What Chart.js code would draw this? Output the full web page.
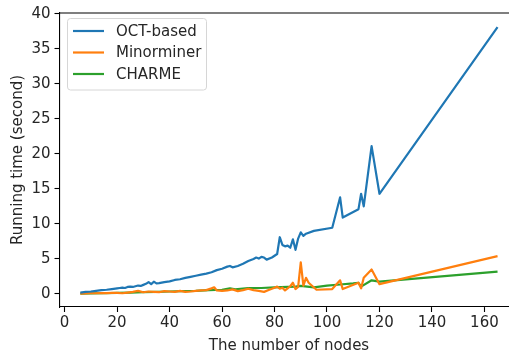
<!DOCTYPE html>
<html>
<head>
<meta charset="utf-8">
<script src="https://cdn.jsdelivr.net/npm/chart.js@4"></script>
<style>
  html, body { margin: 0; padding: 0; background: #fff; width: 509px; height: 355px; overflow: hidden; }
  canvas { display: block; }
</style>
</head>
<body>
<canvas id="runtimeChart" width="520" height="355"></canvas>
<script>
const octX = [6, 8, 10, 12, 14, 16, 18, 20, 21, 22, 23, 24, 25, 26, 27, 28, 29, 30, 31, 32, 33, 34, 35, 36, 38, 40, 42, 44, 46, 48, 50, 52, 54, 56, 58, 60, 62, 63, 64, 66, 68, 70, 72, 73, 74, 75, 76, 77, 79, 81, 82, 83, 84, 85, 86, 87, 88, 89, 90, 91, 92, 95, 102, 105, 106, 112, 113, 114, 117, 120, 165];
const octY = [0.2, 0.3, 0.35, 0.45, 0.55, 0.6, 0.7, 0.8, 0.85, 0.9, 0.85, 1.0, 1.05, 1.0, 1.1, 1.2, 1.15, 1.3, 1.45, 1.7, 1.4, 1.75, 1.5, 1.55, 1.7, 1.8, 2.0, 2.1, 2.3, 2.45, 2.6, 2.75, 2.9, 3.1, 3.4, 3.6, 3.9, 4.0, 3.8, 4.0, 4.3, 4.7, 5.0, 5.2, 5.05, 5.3, 5.2, 4.9, 5.2, 5.7, 8.1, 7.0, 6.8, 6.9, 6.6, 7.8, 6.3, 7.9, 8.8, 8.3, 8.6, 9.0, 9.45, 13.8, 10.9, 12.1, 14.3, 12.5, 21.1, 14.3, 38.1];

const minX = [6, 8, 10, 12, 14, 16, 18, 20, 22, 24, 26, 28, 30, 32, 34, 36, 38, 40, 42, 44, 46, 48, 50, 52, 54, 56, 57, 58, 60, 62, 64, 66, 68, 70, 72, 74, 76, 78, 80, 81, 82, 83, 84, 85, 86, 87, 88, 89, 90, 91, 92, 93, 96, 102, 105, 106, 112, 113, 114, 117, 120, 165];
const minY = [0.05, 0.08, 0.1, 0.1, 0.12, 0.12, 0.15, 0.15, 0.1, 0.2, 0.3, 0.45, 0.25, 0.35, 0.3, 0.25, 0.4, 0.35, 0.3, 0.45, 0.3, 0.35, 0.45, 0.5, 0.55, 0.8, 0.95, 0.5, 0.45, 0.5, 0.65, 0.4, 0.55, 0.75, 0.55, 0.45, 0.3, 0.6, 0.9, 1.05, 0.75, 0.9, 0.5, 0.8, 1.1, 1.6, 0.7, 1.0, 4.5, 1.2, 2.3, 1.6, 0.6, 0.7, 1.95, 0.7, 1.6, 0.8, 2.3, 3.5, 1.4, 5.4];

const charX = [6, 10, 15, 20, 25, 30, 35, 40, 45, 50, 55, 60, 63, 65, 70, 75, 80, 85, 88, 90, 95, 100, 105, 110, 112, 113, 117, 120, 165];
const charY = [0.05, 0.08, 0.1, 0.15, 0.2, 0.25, 0.3, 0.35, 0.4, 0.45, 0.55, 0.6, 0.8, 0.65, 0.85, 0.85, 0.95, 1.0, 1.05, 1.15, 0.95, 1.2, 1.35, 1.5, 1.6, 1.05, 1.95, 1.75, 3.2];

const seriesNames = ["OCT-based", "Minorminer", "CHARME"];
const seriesColors = ["#1f77b4", "#ff7f0e", "#2ca02c"];
const xTicks = [0, 20, 40, 60, 80, 100, 120, 140, 160];
const yTicks = [0, 5, 10, 15, 20, 25, 30, 35, 40];

const FONT = "\"DejaVu Sans\", sans-serif";
const FONT_SIZE = 15;
const TEXT_COLOR = "#262626";

const toPoints = (xs, ys) => xs.map((x, i) => ({ x, y: ys[i] }));

// spine superior y leyenda estilo matplotlib
const frameAndLegend = {
  id: "frameAndLegend",
  afterDraw(chart) {
    const { ctx, chartArea } = chart;
    ctx.save();
    ctx.strokeStyle = "#000";
    ctx.lineWidth = 1.1;
    ctx.beginPath();
    ctx.moveTo(chartArea.left, chartArea.top);
    ctx.lineTo(chartArea.right, chartArea.top);
    ctx.lineTo(chartArea.right, chartArea.bottom);
    ctx.stroke();

    const bx = 67.5, by = 18.5, bw = 139, bh = 71.5;
    ctx.beginPath();
    ctx.roundRect(bx, by, bw, bh, 3);
    ctx.fillStyle = "rgba(255,255,255,0.8)";
    ctx.fill();
    ctx.strokeStyle = "#d6d6d6";
    ctx.lineWidth = 1;
    ctx.stroke();

    ctx.font = FONT_SIZE + "px " + FONT;
    ctx.textBaseline = "middle";
    ctx.textAlign = "left";
    const rows = [31, 52.5, 74];
    chart.data.datasets.forEach((ds, i) => {
      ctx.strokeStyle = ds.borderColor;
      ctx.lineWidth = 2.2;
      ctx.beginPath();
      ctx.moveTo(73, rows[i]);
      ctx.lineTo(104, rows[i]);
      ctx.stroke();
      ctx.fillStyle = TEXT_COLOR;
      ctx.fillText(ds.label, 116, rows[i] + 1);
    });
    ctx.restore();
  }
};

new Chart(document.getElementById("runtimeChart"), {
  type: "line",
  data: {
    datasets: [
      { label: seriesNames[0], data: toPoints(octX, octY), borderColor: seriesColors[0] },
      { label: seriesNames[1], data: toPoints(minX, minY), borderColor: seriesColors[1] },
      { label: seriesNames[2], data: toPoints(charX, charY), borderColor: seriesColors[2] }
    ]
  },
  options: {
    responsive: false,
    animation: false,
    devicePixelRatio: 1,
    layout: { padding: { top: 11, right: 1.6, left: 0, bottom: 0 } },
    elements: {
      line: { borderWidth: 2.2, tension: 0, borderJoinStyle: "round", borderCapStyle: "butt" },
      point: { radius: 0, hoverRadius: 0 }
    },
    plugins: {
      legend: { display: false },
      tooltip: { enabled: false }
    },
    scales: {
      x: {
        type: "linear",
        min: -1.95,
        max: 172.95,
        afterFit: (s) => { s.height = 48; },
        afterBuildTicks: (s) => { s.ticks = xTicks.map((v) => ({ value: v })); },
        ticks: { color: TEXT_COLOR, font: { family: FONT, size: FONT_SIZE }, padding: 2, maxRotation: 0 },
        grid: { drawOnChartArea: false, drawTicks: true, tickLength: 5, tickColor: "#000", tickWidth: 1.1 },
        border: { display: true, color: "#000", width: 1.1 },
        title: { display: true, text: "The number of nodes", color: TEXT_COLOR, font: { family: FONT, size: FONT_SIZE }, padding: { top: 1, bottom: 0 } }
      },
      y: {
        type: "linear",
        min: -1.86,
        max: 40.1,
        afterFit: (s) => { s.width = 59.5; },
        afterBuildTicks: (s) => { s.ticks = yTicks.map((v) => ({ value: v })); },
        ticks: { color: TEXT_COLOR, font: { family: FONT, size: FONT_SIZE }, padding: 4 },
        grid: { drawOnChartArea: false, drawTicks: true, tickLength: 5, tickColor: "#000", tickWidth: 1.1 },
        border: { display: true, color: "#000", width: 1.1 },
        title: { display: true, text: "Running time (second)", color: TEXT_COLOR, font: { family: FONT, size: FONT_SIZE }, padding: { top: 9, bottom: 0 } }
      }
    }
  },
  plugins: [frameAndLegend]
});
</script>
</body>
</html>
